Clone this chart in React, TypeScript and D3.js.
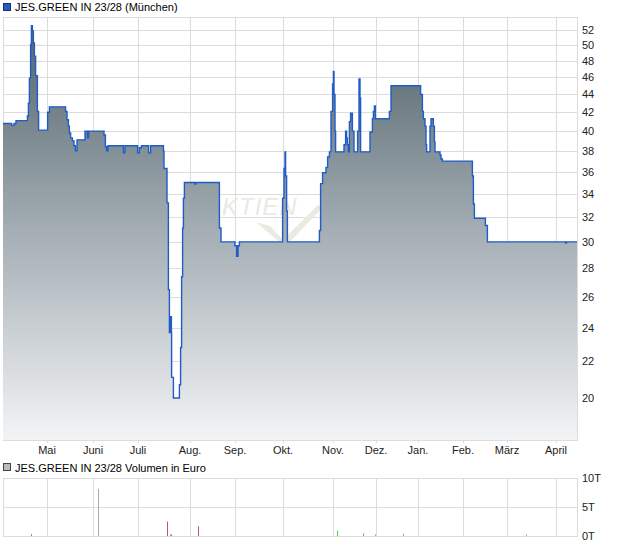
import React from "react";
import * as d3 from "d3";

// price series: [trading-day index, price] change points (step-after)
const priceSteps: [number, number][] = [
  [0, 40.8], [4.3, 40.6], [5.5, 40.8], [6.5, 41.1], [12.2, 41.6], [12.7, 43.0], [13.2, 45.9],
  [13.8, 50.1], [14.2, 52.6], [14.7, 51.9], [15.2, 50.3], [15.7, 48.6], [16.3, 46.2], [17.2, 42.1],
  [17.8, 40.1], [22.3, 42.0], [23.2, 42.6], [31.3, 42.1], [32, 41.2], [32.7, 40.5], [33.2, 39.8],
  [33.8, 39.3], [34.7, 39.0], [35.5, 38.5], [36.2, 38.0], [37, 39.1], [41, 40.0], [42.2, 39.3],
  [42.8, 40.0], [50.5, 39.6], [51.2, 38.4], [51.8, 38.0], [52.5, 38.5], [60.2, 37.8], [61, 38.5],
  [67.3, 37.8], [68.2, 38.3], [69.2, 38.5], [72.8, 37.8], [73.8, 38.5], [80.2, 38.0], [80.5, 36.3],
  [82, 33.2], [82.7, 26.5], [83.2, 23.7], [83.8, 24.7], [84.2, 23.7], [84.3, 21.1], [85.2, 20.0],
  [88.2, 20.7], [88.8, 22.8], [89.3, 27.4], [89.8, 31.1], [90.2, 33.6], [90.7, 35.0], [96, 34.85],
  [96.5, 35.0], [108.2, 31.1], [109, 30.0], [116, 29.7], [116.8, 28.9], [117.5, 29.7], [118.2, 30.0],
  [139.8, 33.6], [140.5, 36.3], [141, 37.9], [141.3, 35.6], [141.8, 32.5], [142.2, 30.0],
  [158.2, 30.9], [158.8, 34.9], [159.8, 35.9], [161.5, 36.4], [162.3, 37.4], [163.2, 37.9],
  [164, 42.1], [164.8, 45.2], [165.2, 46.7], [165.5, 44.0], [166, 40.0], [166.3, 37.9],
  [170.5, 38.6], [171.3, 40.0], [171.8, 39.3], [172.2, 38.6], [172.7, 37.9], [173.2, 41.0],
  [173.8, 41.9], [174.7, 40.0], [175.5, 37.9], [177.3, 40.0], [178, 45.8], [178.5, 43.6],
  [178.8, 37.9], [183.5, 39.9], [184.7, 41.3], [185.2, 42.1], [185.7, 42.7], [186.2, 41.3],
  [193.2, 42.1], [194, 45.0], [208.8, 44.0], [209.7, 42.1], [210.2, 41.3], [211, 40.5],
  [211.5, 38.6], [211.8, 37.9], [213.5, 40.5], [214, 41.3], [215.2, 40.5], [215.7, 38.9],
  [216, 37.9], [218.5, 37.6], [219, 37.2], [219.7, 37.0], [234.7, 35.6], [235.2, 33.1],
  [235.7, 31.9], [241.2, 31.3], [242.2, 30.0], [281.3, 29.9], [281.7, 30.0], [287, 30.0],
];

const monthLabels = ["Mai", "Juni", "Juli", "Aug.", "Sep.", "Okt.", "Nov.", "Dez.", "Jan.", "Feb.", "März", "April"];
const monthStarts = [22, 45, 67.5, 93.5, 116, 140, 165, 186.5, 207.5, 230, 252, 276.5];

const priceTicks = [20, 22, 24, 26, 28, 30, 32, 34, 36, 38, 40, 42, 44, 46, 48, 50, 52];

// volume (thousand euro)
const volDays = [14, 47.5, 82, 83.5, 84, 97.3, 167, 180, 186, 200, 261.5];
const volValues = [0.35, 8.1, 2.5, 0.3, 0.25, 1.7, 0.9, 0.45, 0.3, 0.4, 0.3];
const volKinds = ["up", "flat", "down", "flat", "down", "down", "up", "up", "flat", "flat", "flat"];
const volTicks = [0, 5, 10];
const volTickLabels = ["0T", "5T", "10T"];

const FONT = "'Liberation Sans', Arial, sans-serif";

export default function App() {
  const left = 3, right = 577;
  const pTop = 17, pBottom = 440;
  const vTop = 478, vBottom = 536;

  const x = d3.scaleLinear().domain([0, 287]).range([left, right]);
  const y = d3.scaleLog().domain([17.93, 53.8]).range([pBottom, pTop]);
  const yv = d3.scaleLinear().domain([0, 10]).range([vBottom, vTop]);

  const line = d3.line<[number, number]>().x(d => x(d[0])).y(d => y(d[1])).curve(d3.curveStepAfter);
  const area = d3.area<[number, number]>().x(d => x(d[0])).y0(pBottom).y1(d => y(d[1])).curve(d3.curveStepAfter);

  const grid = "#dcdcdc";
  const volColor: Record<string, string> = { up: "#44cc44", down: "#cc5555", flat: "#aaaaaa" };

  return (
    <svg width={620} height={546} style={{ position: "absolute", left: 0, top: 0, display: "block", background: "#fff" }}
      fontFamily={FONT}>
      <defs>
        <linearGradient id="pg" gradientUnits="userSpaceOnUse" x1={0} y1={pTop} x2={0} y2={pBottom}>
          <stop offset="0" stopColor="#4f5f69" />
          <stop offset="0.5" stopColor="#a3adb3" />
          <stop offset="1" stopColor="#f3f4f6" />
        </linearGradient>
      </defs>

      {/* price legend */}
      <rect x={3.5} y={3.5} width={7} height={7} fill="#1f5cc4" stroke="#203060" />
      <text x={15} y={11} fontSize={11} fill="#000">JES.GREEN IN 23/28 (München)</text>

      {/* price grid */}
      {priceTicks.map(t => (
        <line key={"h" + t} x1={left} x2={right} y1={Math.round(y(t)) + 0.5} y2={Math.round(y(t)) + 0.5} stroke={grid} />
      ))}
      {monthStarts.map((m, i) => (
        <line key={"v" + i} x1={Math.round(x(m)) + 0.5} x2={Math.round(x(m)) + 0.5} y1={pTop} y2={pBottom} stroke={grid} />
      ))}
      <rect x={left + 0.5} y={pTop + 0.5} width={right - left} height={pBottom - pTop} fill="none" stroke={grid} />

      {/* watermark */}
      <text x={205} y={215} fontSize={24} fontStyle="italic" fill="#ece8e2" letterSpacing={1}>AKTIEN</text>
      <path d="M256,222 L270,226 L283,240 L318,205 L323,207 L285,247 Z" fill="#ece8e2" />

      {/* price area + line */}
      <path d={area(priceSteps) || ""} fill="url(#pg)" />
      <path d={line(priceSteps) || ""} fill="none" stroke="#1f5cc8" strokeWidth={1.4} />

      {/* price axis labels */}
      {priceTicks.map(t => (
        <text key={"pt" + t} x={582} y={y(t)} dy="0.35em" fontSize={11} fill="#222">{t}</text>
      ))}
      {monthLabels.map((l, i) => (
        <g key={"ml" + i}>
          <line x1={Math.round(x(monthStarts[i])) + 0.5} x2={Math.round(x(monthStarts[i])) + 0.5} y1={pBottom} y2={pBottom + 3} stroke={grid} />
          <text x={x(monthStarts[i])} y={454} textAnchor="middle" fontSize={11} fill="#222">{l}</text>
        </g>
      ))}

      {/* volume legend */}
      <rect x={3.5} y={463.5} width={7} height={7} fill="#bbbbbb" stroke="#444" />
      <text x={15} y={472} fontSize={11} fill="#000">JES.GREEN IN 23/28 Volumen in Euro</text>

      {/* volume grid */}
      {volTicks.map(t => (
        <line key={"vh" + t} x1={left} x2={right} y1={Math.round(yv(t)) + 0.5} y2={Math.round(yv(t)) + 0.5} stroke={grid} />
      ))}
      {monthStarts.map((m, i) => (
        <line key={"vv" + i} x1={Math.round(x(m)) + 0.5} x2={Math.round(x(m)) + 0.5} y1={vTop} y2={vBottom} stroke={grid} />
      ))}
      <rect x={left + 0.5} y={vTop + 0.5} width={right - left} height={vBottom - vTop} fill="none" stroke={grid} />

      {/* volume bars */}
      {volDays.map((d, i) => (
        <rect key={"vb" + i} x={Math.round(x(d))} y={yv(volValues[i])} width={1} height={vBottom - yv(volValues[i])}
          fill={volColor[volKinds[i]]} />
      ))}

      {volTicks.map((t, i) => (
        <text key={"vt" + t} x={582} y={yv(t)} dy="0.35em" fontSize={11} fill="#222">{volTickLabels[i]}</text>
      ))}
    </svg>
  );
}
